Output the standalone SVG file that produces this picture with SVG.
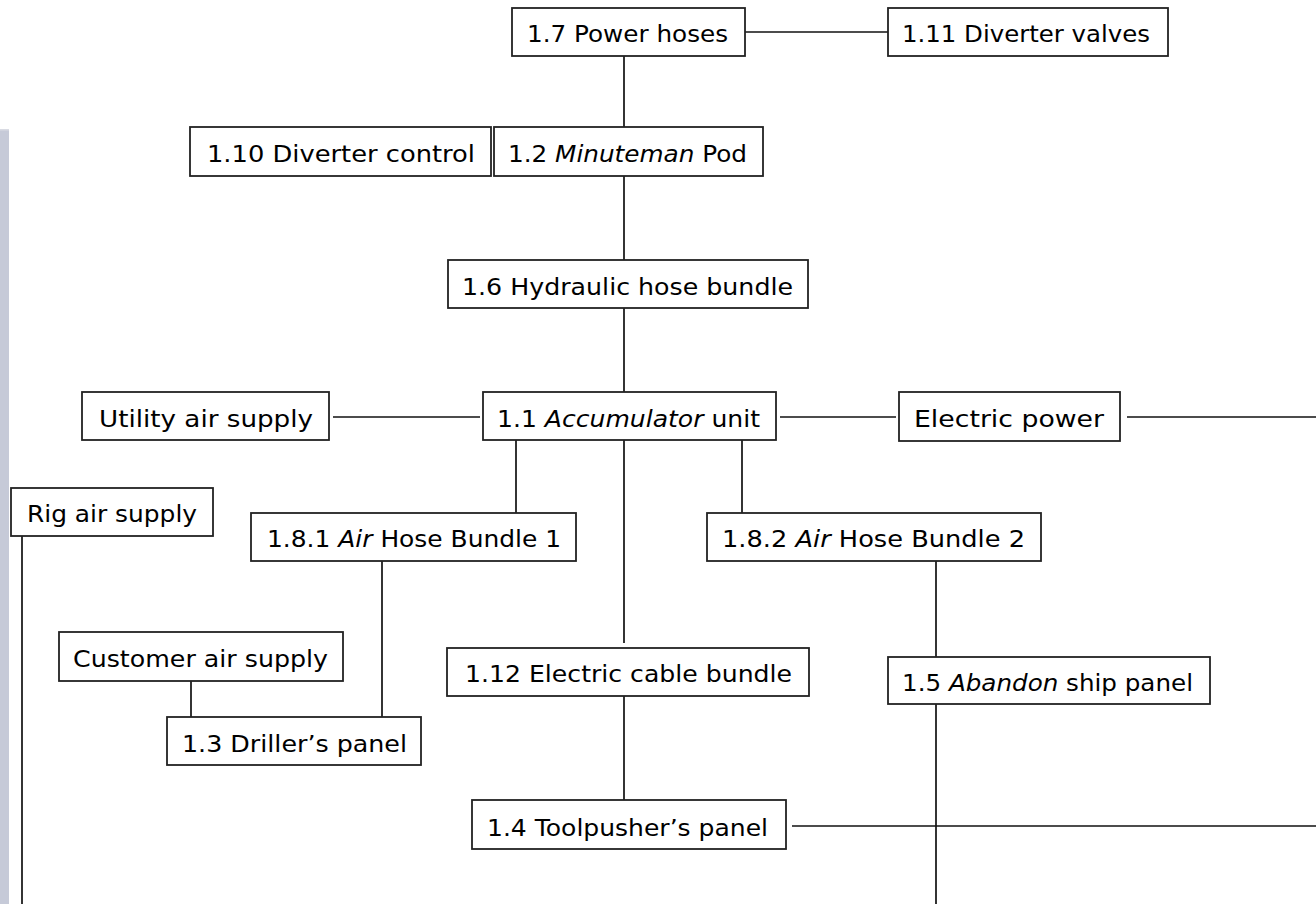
<svg xmlns="http://www.w3.org/2000/svg" width="1316" height="904" viewBox="0 0 1316 904">
<style>
.box{fill:#fff;stroke:#222;stroke-width:1.8}
.lbl{font-family:"DejaVu Sans","Liberation Sans",sans-serif;font-size:23px;fill:#000}
.it{font-style:italic}
.con line{stroke:#111;stroke-width:1.7}
</style>
<rect width="1316" height="904" fill="#fff"/>
<rect x="0" y="130" width="9" height="774" fill="#c6cad8"/>
<rect x="0" y="129" width="9" height="1.5" fill="#d9dbe3"/>
<g class="con" id="connectors">
<line x1="745" y1="32" x2="888" y2="32"/>
<line x1="624" y1="56" x2="624" y2="127"/>
<line x1="624" y1="176" x2="624" y2="260"/>
<line x1="624" y1="308" x2="624" y2="392"/>
<line x1="333" y1="417" x2="480" y2="417"/>
<line x1="780" y1="417" x2="896" y2="417"/>
<line x1="1127" y1="417" x2="1316" y2="417"/>
<line x1="516" y1="440" x2="516" y2="513"/>
<line x1="742" y1="440" x2="742" y2="513"/>
<line x1="624" y1="440" x2="624" y2="643"/>
<line x1="22" y1="536" x2="22" y2="904"/>
<line x1="382" y1="561" x2="382" y2="717"/>
<line x1="191" y1="681" x2="191" y2="717"/>
<line x1="936" y1="561" x2="936" y2="657"/>
<line x1="936" y1="704" x2="936" y2="904"/>
<line x1="624" y1="692" x2="624" y2="800"/>
<line x1="792" y1="826" x2="1316" y2="826"/>
</g>
<g id="n17"><rect class="box" x="512" y="8" width="233" height="48"/><text class="lbl" x="527" y="42" textLength="201" lengthAdjust="spacingAndGlyphs">1.7 Power hoses</text></g>
<g id="n111"><rect class="box" x="888" y="8" width="280" height="48"/><text class="lbl" x="902" y="42" textLength="248" lengthAdjust="spacingAndGlyphs">1.11 Diverter valves</text></g>
<g id="n110"><rect class="box" x="190" y="127" width="301" height="49"/><text class="lbl" x="207" y="162" textLength="268" lengthAdjust="spacingAndGlyphs">1.10 Diverter control</text></g>
<g id="n12"><rect class="box" x="494" y="127" width="269" height="49"/><text class="lbl" x="508" y="162" textLength="239" lengthAdjust="spacingAndGlyphs">1.2 <tspan class="it">Minuteman</tspan> Pod</text></g>
<g id="n16"><rect class="box" x="448" y="260" width="360" height="48"/><text class="lbl" x="462" y="295" textLength="331" lengthAdjust="spacingAndGlyphs">1.6 Hydraulic hose bundle</text></g>
<g id="util"><rect class="box" x="82" y="392" width="247" height="48"/><text class="lbl" x="99" y="427" textLength="214" lengthAdjust="spacingAndGlyphs">Utility air supply</text></g>
<g id="n11"><rect class="box" x="483" y="392" width="293" height="48"/><text class="lbl" x="497" y="427" textLength="263" lengthAdjust="spacingAndGlyphs">1.1 <tspan class="it">Accumulator</tspan> unit</text></g>
<g id="elec"><rect class="box" x="899" y="392" width="221" height="49"/><text class="lbl" x="914" y="427" textLength="190" lengthAdjust="spacingAndGlyphs">Electric power</text></g>
<g id="rig"><rect class="box" x="11" y="488" width="202" height="48"/><text class="lbl" x="27" y="522" textLength="170" lengthAdjust="spacingAndGlyphs">Rig air supply</text></g>
<g id="n181"><rect class="box" x="251" y="513" width="325" height="48"/><text class="lbl" x="267" y="547" textLength="294" lengthAdjust="spacingAndGlyphs">1.8.1 <tspan class="it">Air</tspan> Hose Bundle 1</text></g>
<g id="n182"><rect class="box" x="707" y="513" width="334" height="48"/><text class="lbl" x="722" y="547" textLength="303" lengthAdjust="spacingAndGlyphs">1.8.2 <tspan class="it">Air</tspan> Hose Bundle 2</text></g>
<g id="cust"><rect class="box" x="59" y="632" width="284" height="49"/><text class="lbl" x="73" y="667" textLength="255" lengthAdjust="spacingAndGlyphs">Customer air supply</text></g>
<g id="n112"><rect class="box" x="447" y="648" width="362" height="48"/><text class="lbl" x="465" y="682" textLength="327" lengthAdjust="spacingAndGlyphs">1.12 Electric cable bundle</text></g>
<g id="n15"><rect class="box" x="888" y="657" width="322" height="47"/><text class="lbl" x="902" y="691" textLength="291" lengthAdjust="spacingAndGlyphs">1.5 <tspan class="it">Abandon</tspan> ship panel</text></g>
<g id="n13"><rect class="box" x="167" y="717" width="254" height="48"/><text class="lbl" x="182" y="752" textLength="225" lengthAdjust="spacingAndGlyphs">1.3 Driller’s panel</text></g>
<g id="n14"><rect class="box" x="472" y="800" width="314" height="49"/><text class="lbl" x="487" y="836" textLength="281" lengthAdjust="spacingAndGlyphs">1.4 Toolpusher’s panel</text></g>
</svg>
